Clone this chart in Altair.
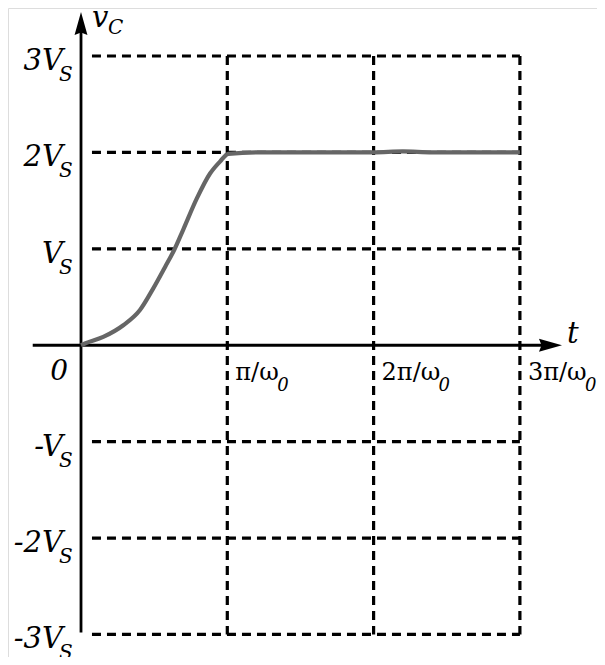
import altair as alt
import pandas as pd

# ---- data (t in units of pi/omega0, v in units of Vs) ----
curve_t = [0.0, 0.027, 0.152, 0.289, 0.403, 0.494, 0.574, 0.636, 0.699, 0.791, 0.882,
           0.950, 1.007, 1.2, 1.5, 1.8, 2.0, 2.2, 2.4, 2.6, 2.8, 3.0]
curve_v = [0.0, 0.018, 0.086, 0.207, 0.365, 0.59, 0.81, 0.985, 1.2, 1.52, 1.781,
           1.905, 1.985, 2.0, 2.0, 2.0, 2.0, 2.01, 2.0, 2.0, 2.0, 2.0]

grid_levels = [3, 2, 1, -1, -2, -3]
grid_times = [1, 2, 3]

y_main = ["3V", "2V", "V", "-V", "-2V", "-3V"]
y_sub = ["S", "S", "S", "S", "S", "S"]
x_main = ["π/ω", "2π/ω", "3π/ω"]
x_sub = ["0", "0", "0"]

# ---- scales: fixed domains so that the axes sit where they do in the figure ----
XD = [-0.499, 3.527]
YD = [-3.234, 3.498]
xs = alt.Scale(domain=XD, nice=False, zero=False)
ys = alt.Scale(domain=YD, nice=False, zero=False)

FONT = "DejaVu Serif"


def X(field="t"):
    return alt.X(f"{field}:Q", scale=xs, axis=None)


def Y(field="v"):
    return alt.Y(f"{field}:Q", scale=ys, axis=None)


curve_df = pd.DataFrame({"t": curve_t, "v": curve_v})

hgrid = pd.DataFrame({"t": [0.075] * len(grid_levels), "t2": [3] * len(grid_levels), "v": grid_levels})
vgrid = pd.DataFrame({"t": grid_times, "v": [3] * len(grid_times), "v2": [-3] * len(grid_times)})

dash = dict(color="black", strokeWidth=3.2, strokeDash=[9, 6])

h_rules = alt.Chart(hgrid).mark_rule(**dash).encode(x=X(), x2="t2:Q", y=Y())
v_rules = alt.Chart(vgrid).mark_rule(**dash).encode(x=X(), y=Y(), y2="v2:Q")

# axes
xaxis = alt.Chart(pd.DataFrame({"t": [-0.33], "t2": [3.2], "v": [0]})).mark_rule(
    color="black", strokeWidth=2.8).encode(x=X(), x2="t2:Q", y=Y())
yaxis = alt.Chart(pd.DataFrame({"t": [0], "v": [-2.98], "v2": [3.3]})).mark_rule(
    color="black", strokeWidth=2.8).encode(x=X(), y=Y(), y2="v2:Q")

arrow_up = "M0,-1 L0.56,1 L0,0.78 L-0.56,1 Z"
arrow_right = "M1,0 L-1,0.56 L-0.78,0 L-1,-0.56 Z"
ya = alt.Chart(pd.DataFrame({"t": [0], "v": [3.337]})).mark_point(
    shape=arrow_up, filled=True, color="black", opacity=1, size=529, strokeWidth=0).encode(x=X(), y=Y())
xa = alt.Chart(pd.DataFrame({"t": [3.209], "v": [0]})).mark_point(
    shape=arrow_right, filled=True, color="black", opacity=1, size=529, strokeWidth=0).encode(x=X(), y=Y())

curve = alt.Chart(curve_df).mark_line(
    color="#666666", strokeWidth=4.2, interpolate="monotone").encode(x=X(), y=Y())

# y tick labels
ylab_df = pd.DataFrame({"t": [0] * len(grid_levels), "v": grid_levels, "m": y_main, "s": y_sub})
ylab = alt.Chart(ylab_df).mark_text(
    font=FONT, fontStyle="italic", fontSize=29, align="right", baseline="alphabetic",
    dx=-18, dy=14, color="black").encode(x=X(), y=Y(), text="m:N")
ylab_s = alt.Chart(ylab_df).mark_text(
    font=FONT, fontStyle="italic", fontSize=20, align="left", baseline="alphabetic",
    dx=-22, dy=25, color="black").encode(x=X(), y=Y(), text="s:N")

# x tick labels
xlab_df = pd.DataFrame({"t": grid_times, "v": [0] * len(grid_times), "m": x_main, "s": x_sub})
xlab = alt.Chart(xlab_df).mark_text(
    font=FONT, fontSize=24, align="left", baseline="alphabetic",
    dx=8, dy=35, color="black").encode(x=X(), y=Y(), text="m:N")
xlab_s_layers = []
for i in range(len(grid_times)):
    sub_dx = 50 + 15 * (len(x_main[i]) - 3)
    xlab_s_layers.append(
        alt.Chart(xlab_df.iloc[[i]]).mark_text(
            font=FONT, fontStyle="italic", fontSize=18, align="left", baseline="alphabetic",
            dx=sub_dx, dy=46, color="black").encode(x=X(), y=Y(), text="s:N"))

zero = alt.Chart(pd.DataFrame({"t": [0], "v": [0], "m": ["0"]})).mark_text(
    font=FONT, fontStyle="italic", fontSize=28, align="right", baseline="alphabetic",
    dx=-13, dy=35, color="black").encode(x=X(), y=Y(), text="m:N")

# axis names
tname = alt.Chart(pd.DataFrame({"t": [3.288], "v": [0], "m": ["t"]})).mark_text(
    font=FONT, fontStyle="italic", fontSize=29, align="left", baseline="alphabetic",
    dx=5, dy=-2, color="black").encode(x=X(), y=Y(), text="m:N")
vname = alt.Chart(pd.DataFrame({"t": [0], "v": [3.456], "m": ["v"]})).mark_text(
    font=FONT, fontStyle="italic", fontSize=29, align="left", baseline="alphabetic",
    dx=11, dy=15, color="black").encode(x=X(), y=Y(), text="m:N")
vsub = alt.Chart(pd.DataFrame({"t": [0], "v": [3.456], "m": ["C"]})).mark_text(
    font=FONT, fontStyle="italic", fontSize=20, align="left", baseline="alphabetic",
    dx=27, dy=22, color="black").encode(x=X(), y=Y(), text="m:N")

chart = alt.layer(
    h_rules, v_rules, xaxis, yaxis, ya, xa, curve,
    ylab, ylab_s, xlab, *xlab_s_layers, zero, tname, vname, vsub
).properties(
    width=589, height=649, padding=0,
    autosize=alt.AutoSizeParams(type="none"),
).configure_view(stroke=None).configure(background="white")

chart.save("out.html", embed_options={"renderer": "svg", "actions": False})
